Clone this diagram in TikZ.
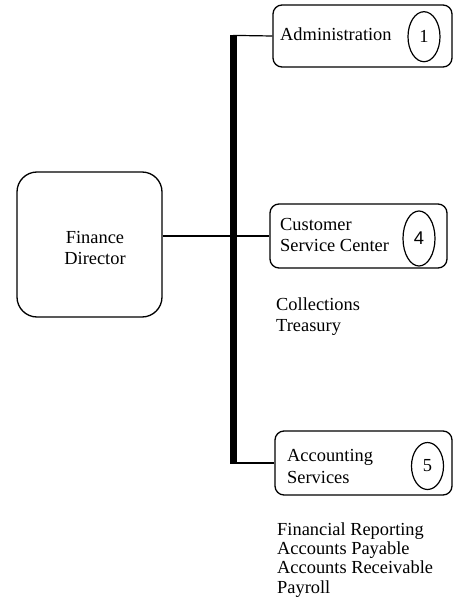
\documentclass[tikz,border=0pt]{standalone}
\usepackage{fontspec}
\setmainfont{Liberation Serif}
\newfontfamily\numsans{Liberation Sans}
\usetikzlibrary{shapes.geometric}
\begin{document}
\begin{tikzpicture}[x=1pt,y=-1pt,
  every node/.style={font=\fontsize{18.4}{20}\selectfont},
  unitbox/.style={draw,line width=1.3pt,rounded corners=9pt,inner sep=0pt},
  bigbox/.style={draw,line width=1.3pt,rounded corners=20pt,inner sep=0pt,minimum width=145pt,minimum height=145pt},
  numoval/.style={draw,ellipse,line width=1.2pt,inner sep=0pt,minimum width=32pt},
  txt/.style={anchor=base west,inner sep=0pt},
  ctxt/.style={anchor=base,inner sep=0pt},
  link/.style={line width=1.2pt},
  spine/.style={line width=7pt}
]
\useasboundingbox (0,0) rectangle (454,607);

% boxes
\node[bigbox] (fd) at (89.5,244.5) {};
\node[unitbox,minimum width=179pt,minimum height=62pt] (adm) at (362.5,36) {};
\node[unitbox,minimum width=177pt,minimum height=64pt] (csc) at (358.5,236) {};
\node[unitbox,minimum width=177pt,minimum height=64pt] (acc) at (363.5,463) {};

% texts in boxes
\node[ctxt] (fd1) at (95,243) {Finance};
\node[ctxt] (fd2) at (95,264) {Director};
\node[txt] (adm1) at (280,41) {Administration};
\node[txt] (csc1) at (280,230) {Customer};
\node[txt] (csc2) at (280,251) {Service Center};
\node[txt] (acc1) at (287,461.5) {Accounting};
\node[txt] (acc2) at (287,483) {Services};

% number ovals
\node[numoval,minimum height=50pt] (n1) at (424,36.7) {1};
\node[numoval,minimum height=55pt] (n4) at (419,238.5) {\numsans 4};
\node[numoval,minimum height=47pt] (n5) at (427.5,466) {5};

% lists
\node[txt] (l1) at (276,310) {Collections};
\node[txt] (l2) at (276,331) {Treasury};
\node[txt] (l3) at (277,535) {Financial Reporting};
\node[txt] (l4) at (277,554.3) {Accounts Payable};
\node[txt] (l5) at (277,573.6) {Accounts Receivable};
\node[txt] (l6) at (277,593) {Payroll};

% connectors
\coordinate (bt) at (233,35.4);
\coordinate (bb) at (233,463.6);
\draw[spine] (bt) -- (bb);
\draw[link] (bt -| 233,36) -- (adm.west);
\draw[link] (233,463) -- (acc.west);
\draw[link] (fd.east |- csc.west) -- (csc.west);
\end{tikzpicture}
\end{document}
